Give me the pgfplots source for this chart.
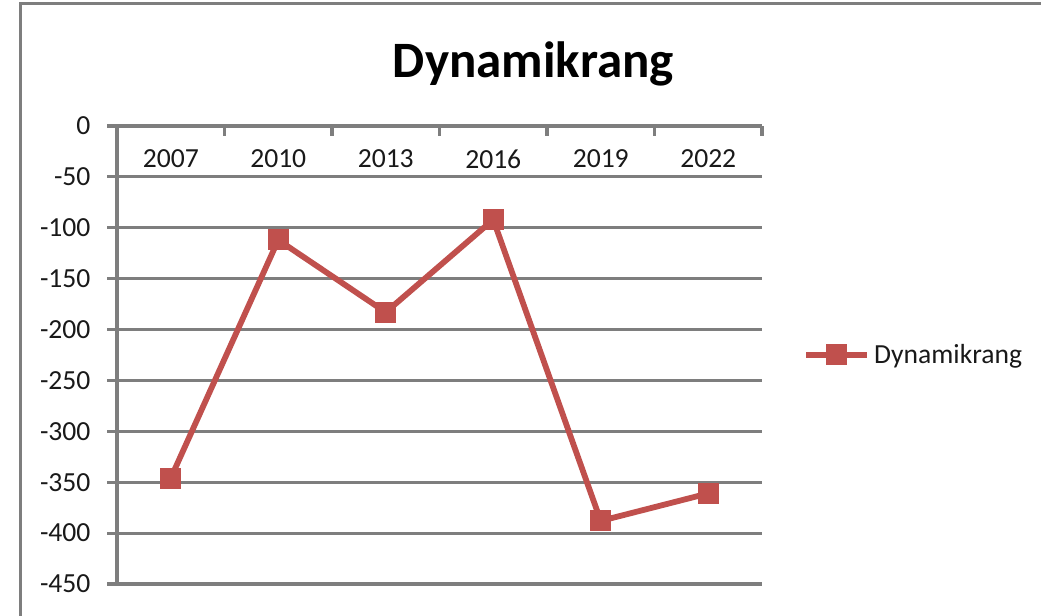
\documentclass[border=0pt]{standalone}
\usepackage{fontspec}
\setmainfont{Carlito}
\usepackage{pgfplots}
\pgfplotsset{compat=1.18}
\definecolor{ser}{HTML}{C0504D}
\definecolor{gridc}{HTML}{7E7E7E}
\begin{document}
\begin{tikzpicture}
\useasboundingbox (0,0) rectangle (520.5pt,308pt);
\draw[gridc, line width=1.5pt] (10pt,-1pt) -- (10pt,306pt) -- (522pt,306pt);
\node[font=\fontsize{25.5}{30}\selectfont\bfseries, anchor=base, inner sep=0pt] at (266.75pt,269pt) {Dynamikrang};
\begin{axis}[
  at={(58.5pt,16pt)}, anchor=south west,
  scale only axis, width=322.5pt, height=229pt,
  xmin=0.5, xmax=6.5, ymin=-450, ymax=0,
  axis x line*=top, axis y line*=left,
  axis line style={gridc, line width=1.6pt},
  tick style={gridc, line width=1.6pt},
  xtick={0.5,1.5,...,6.5}, xticklabels={},
  xtick align=inside, ytick align=outside,
  major tick length=4.75pt,
  extra x ticks={1,2,3,4,5,6},
  extra x tick labels={2007,2010,2013,2016,2019,2022},
  extra x tick style={major tick length=0pt},
  xticklabel style={anchor=north, yshift=-8.5pt},
  ytick={-450,-400,-350,-300,-250,-200,-150,-100,-50,0},
  yticklabels={-450,-400,-350,-300,-250,-200,-150,-100,-50,0},
  yticklabel style={anchor=east, xshift=-5pt},
  tick label style={font=\fontsize{13.8}{16}\selectfont, text=black!90},
  ymajorgrids, grid style={gridc, line width=1.6pt},
  clip=false,
  legend style={at={(1.0636,0.5)}, anchor=west, draw=none, fill=none, inner sep=0pt,
    font=\fontsize{13.8}{16}\selectfont, text=black!90},
  legend cell align=left,
  legend image code/.code={\draw[mark repeat=2,mark phase=2] plot coordinates {(0pt,0pt)(15.25pt,0pt)(30.5pt,0pt)};},
]
\addplot[ser, line width=2.9pt, mark=square*, mark size=5pt,
  mark options={fill=ser, draw=ser, line width=0.5pt}]
  coordinates {(1,-346) (2,-112) (3,-183) (4,-92) (5,-388) (6,-361)};
\addlegendentry{Dynamikrang}
\end{axis}
\end{tikzpicture}
\end{document}
